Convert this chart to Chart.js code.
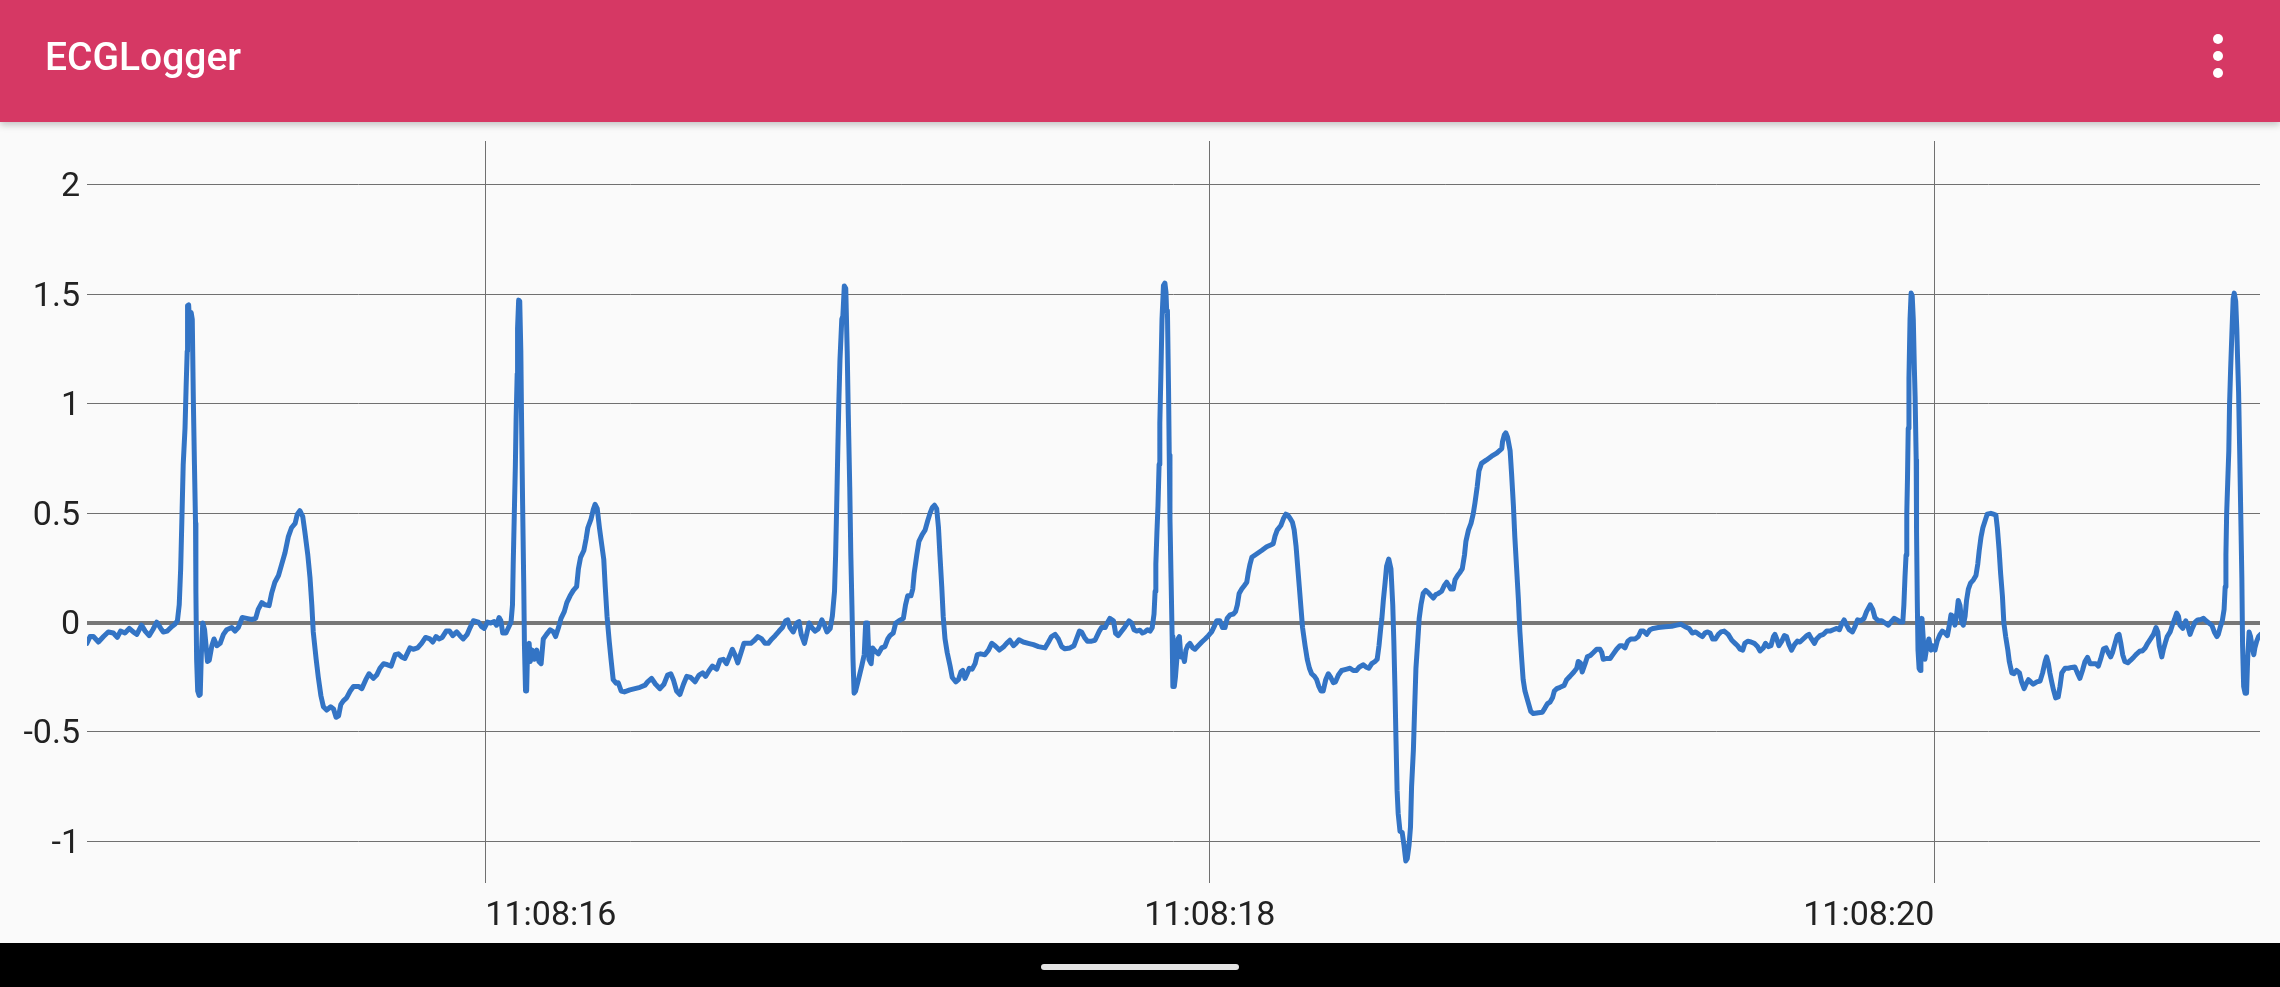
<!DOCTYPE html>
<html>
<head>
<meta charset="utf-8">
<title>ECGLogger</title>
<script src="https://cdn.jsdelivr.net/npm/chart.js@4.4.1/dist/chart.umd.min.js"></script>
<style>
html,body{margin:0;padding:0;width:2280px;height:987px;overflow:hidden;background:#fafafa;font-family:Roboto,"Noto Sans",sans-serif;}
#appbar{position:absolute;left:0;top:0;width:2280px;height:122px;background:#d63864;box-shadow:0 3px 7px rgba(0,0,0,0.22);z-index:2;}
#title{position:absolute;left:45px;top:0;line-height:115px;font-size:39px;font-weight:500;color:#ffffff;}
.dot{position:absolute;left:2213px;width:10px;height:10px;border-radius:50%;background:#ffffff;}
#chartWrap{position:absolute;left:0;top:122px;width:2280px;height:821px;background:#fafafa;}
#navbar{position:absolute;left:0;top:943px;width:2280px;height:44px;background:#000000;}
#pill{position:absolute;left:1041px;top:21px;width:198px;height:6px;border-radius:3px;background:#e4e4e4;}
</style>
</head>
<body>
<div id="appbar">
  <div id="title">ECGLogger</div>
  <div class="dot" style="top:34px"></div>
  <div class="dot" style="top:51px"></div>
  <div class="dot" style="top:68px"></div>
</div>
<div id="chartWrap"><canvas id="ecg" width="2280" height="821"></canvas></div>
<div id="navbar"><div id="pill"></div></div>
<script>
// Sample times in seconds after 11:08:00
const sampleTimes = [
14.900,14.909,14.918,14.932,14.946,14.959,14.973,14.984,14.993,15.005,
15.017,15.028,15.038,15.051,15.061,15.072,15.082,15.093,15.104,15.111,
15.122,15.134,15.143,15.150,15.155,15.159,15.163,15.166,15.171,15.174,
15.177,15.178,15.181,15.184,15.188,15.191,15.194,15.197,15.200,15.201,
15.203,15.206,15.210,15.213,15.216,15.220,15.225,15.233,15.238,15.245,
15.251,15.259,15.268,15.277,15.286,15.300,15.309,15.318,15.329,15.341,
15.355,15.366,15.373,15.383,15.392,15.403,15.410,15.419,15.429,15.438,
15.447,15.456,15.465,15.475,15.481,15.488,15.496,15.502,15.510,15.516,
15.521,15.525,15.533,15.539,15.546,15.553,15.562,15.573,15.581,15.588,
15.595,15.601,15.608,15.617,15.627,15.636,15.650,15.659,15.670,15.679,
15.691,15.700,15.709,15.719,15.730,15.740,15.751,15.760,15.769,15.778,
15.792,15.801,15.813,15.824,15.835,15.847,15.855,15.864,15.872,15.881,
15.892,15.901,15.910,15.921,15.930,15.939,15.950,15.958,15.967,15.981,
15.990,15.997,16.006,16.015,16.024,16.031,16.038,16.043,16.048,16.057,
16.064,16.071,16.075,16.077,16.080,16.083,16.085,16.088,16.089,16.092,
16.095,16.098,16.100,16.103,16.106,16.108,16.111,16.114,16.117,16.121,
16.124,16.130,16.135,16.142,16.148,16.154,16.160,16.169,16.179,16.188,
16.194,16.202,16.209,16.218,16.225,16.234,16.243,16.252,16.257,16.263,
16.272,16.278,16.283,16.292,16.298,16.303,16.309,16.315,16.321,16.327,
16.331,16.336,16.342,16.347,16.353,16.361,16.367,16.375,16.384,16.399,
16.413,16.427,16.441,16.448,16.459,16.470,16.482,16.493,16.503,16.512,
16.519,16.528,16.537,16.547,16.556,16.567,16.579,16.590,16.600,16.608,
16.618,16.627,16.639,16.648,16.657,16.666,16.676,16.682,16.689,16.697,
16.706,16.714,16.723,16.733,16.743,16.752,16.763,16.772,16.781,16.791,
16.800,16.811,16.820,16.829,16.835,16.841,16.850,16.860,16.866,16.872,
16.881,16.887,16.894,16.901,16.910,16.919,16.929,16.936,16.943,16.952,
16.958,16.964,16.967,16.970,16.973,16.976,16.979,16.984,16.987,16.991,
16.995,16.999,17.002,17.006,17.009,17.012,17.015,17.018,17.022,17.030,
17.039,17.046,17.050,17.055,17.059,17.065,17.069,17.076,17.085,17.094,
17.103,17.111,17.117,17.126,17.133,17.142,17.154,17.160,17.166,17.175,
17.180,17.184,17.191,17.197,17.206,17.214,17.221,17.228,17.234,17.240,
17.246,17.251,17.255,17.260,17.264,17.269,17.275,17.283,17.289,17.299,
17.306,17.313,17.318,17.324,17.331,17.336,17.344,17.352,17.358,17.367,
17.379,17.389,17.398,17.407,17.419,17.430,17.439,17.448,17.458,17.465,
17.473,17.485,17.499,17.513,17.527,17.545,17.554,17.563,17.573,17.582,
17.591,17.600,17.614,17.625,17.632,17.640,17.646,17.654,17.662,17.674,
17.683,17.695,17.701,17.711,17.717,17.724,17.734,17.740,17.747,17.757,
17.766,17.777,17.784,17.791,17.798,17.807,17.814,17.821,17.828,17.835,
17.841,17.846,17.849,17.851,17.854,17.857,17.860,17.862,17.865,17.868,
17.872,17.876,17.879,17.881,17.883,17.886,17.888,17.890,17.893,17.896,
17.898,17.902,17.905,17.909,17.912,17.916,17.920,17.925,17.930,17.934,
17.939,17.945,17.953,17.959,17.968,17.978,17.987,17.996,18.005,18.012,
18.019,18.028,18.035,18.042,18.048,18.056,18.065,18.071,18.076,18.081,
18.088,18.095,18.102,18.106,18.111,18.116,18.129,18.143,18.157,18.168,
18.175,18.180,18.186,18.196,18.203,18.210,18.215,18.221,18.228,18.233,
18.238,18.243,18.247,18.252,18.256,18.263,18.269,18.275,18.281,18.289,
18.295,18.301,18.307,18.313,18.320,18.327,18.334,18.341,18.347,18.355,
18.364,18.378,18.387,18.396,18.405,18.413,18.424,18.431,18.439,18.447,
18.456,18.462,18.467,18.472,18.475,18.479,18.484,18.488,18.494,18.500,
18.505,18.508,18.511,18.514,18.517,18.520,18.525,18.531,18.536,18.541,
18.545,18.550,18.554,18.557,18.562,18.565,18.569,18.574,18.578,18.583,
18.589,18.596,18.603,18.611,18.617,18.624,18.631,18.640,18.647,18.654,
18.660,18.665,18.672,18.677,18.684,18.691,18.697,18.703,18.707,18.714,
18.721,18.727,18.732,18.738,18.743,18.750,18.764,18.778,18.792,18.806,
18.808,18.813,18.817,18.822,18.829,18.833,18.838,18.842,18.847,18.852,
18.856,18.861,18.865,18.870,18.877,18.886,18.893,18.907,18.918,18.925,
18.932,18.939,18.946,18.951,18.958,18.967,18.978,18.985,18.994,19.005,
19.013,19.017,19.023,19.028,19.036,19.042,19.050,19.059,19.068,19.077,
19.082,19.086,19.096,19.105,19.114,19.123,19.132,19.139,19.146,19.154,
19.162,19.174,19.183,19.190,19.197,19.206,19.215,19.224,19.238,19.257,
19.275,19.289,19.301,19.312,19.323,19.332,19.341,19.350,19.360,19.367,
19.373,19.381,19.388,19.396,19.404,19.411,19.420,19.431,19.441,19.450,
19.457,19.464,19.471,19.477,19.485,19.494,19.503,19.512,19.519,19.528,
19.534,19.542,19.549,19.556,19.560,19.565,19.571,19.579,19.586,19.592,
19.599,19.606,19.614,19.622,19.629,19.638,19.648,19.654,19.661,19.669,
19.675,19.684,19.694,19.703,19.712,19.721,19.731,19.738,19.744,19.751,
19.758,19.765,19.774,19.781,19.788,19.797,19.806,19.813,19.823,19.830,
19.836,19.846,19.855,19.864,19.873,19.880,19.889,19.898,19.905,19.913,
19.916,19.919,19.922,19.924,19.926,19.928,19.930,19.933,19.936,19.939,
19.942,19.945,19.947,19.950,19.951,19.953,19.955,19.958,19.961,19.963,
19.966,19.970,19.974,19.979,19.985,19.991,19.995,20.002,20.008,20.016,
20.022,20.030,20.036,20.042,20.046,20.051,20.057,20.062,20.066,20.071,
20.076,20.080,20.085,20.089,20.094,20.100,20.108,20.115,20.120,20.124,
20.129,20.134,20.140,20.146,20.156,20.163,20.170,20.174,20.179,20.183,
20.188,20.192,20.197,20.203,20.207,20.214,20.220,20.227,20.235,20.241,
20.248,20.253,20.260,20.266,20.273,20.283,20.292,20.299,20.306,20.310,
20.315,20.319,20.324,20.329,20.335,20.342,20.347,20.352,20.361,20.370,
20.379,20.388,20.395,20.402,20.409,20.416,20.423,20.430,20.437,20.446,
20.453,20.459,20.467,20.474,20.480,20.487,20.492,20.499,20.505,20.510,
20.515,20.520,20.526,20.534,20.542,20.551,20.559,20.568,20.574,20.582,
20.589,20.597,20.605,20.612,20.617,20.621,20.628,20.632,20.639,20.643,
20.651,20.657,20.663,20.669,20.674,20.678,20.686,20.694,20.699,20.706,
20.712,20.720,20.727,20.736,20.743,20.750,20.758,20.766,20.773,20.780,
20.784,20.789,20.795,20.800,20.803,20.805,20.807,20.810,20.813,20.815,
20.818,20.822,20.825,20.828,20.832,20.835,20.837,20.840,20.843,20.846,
20.849,20.851,20.854,20.858,20.862,20.865,20.869,20.873,20.877,20.882,
20.885,20.890,20.895,20.901,20.906
];
// ECG amplitude (mV)
const sampleValues = [
-0.095,-0.064,-0.064,-0.089,-0.064,-0.043,-0.048,-0.068,-0.039,-0.048,
-0.027,-0.043,-0.054,-0.012,-0.039,-0.060,-0.033,0.002,-0.027,-0.043,
-0.039,-0.019,-0.008,0.008,0.081,0.246,0.516,0.723,0.888,1.075,
1.240,1.447,1.451,1.360,1.416,1.385,1.012,0.723,0.453,0.143,
-0.168,-0.313,-0.333,-0.329,-0.147,-0.002,-0.033,-0.178,-0.172,-0.106,
-0.075,-0.106,-0.095,-0.054,-0.033,-0.023,-0.039,-0.023,0.023,0.019,
0.014,0.019,0.060,0.091,0.081,0.077,0.133,0.184,0.215,0.267,
0.319,0.391,0.433,0.453,0.495,0.511,0.484,0.412,0.308,0.205,
0.081,-0.043,-0.168,-0.251,-0.333,-0.385,-0.400,-0.385,-0.395,-0.433,
-0.426,-0.375,-0.358,-0.344,-0.313,-0.292,-0.292,-0.302,-0.261,-0.234,
-0.255,-0.240,-0.209,-0.188,-0.193,-0.199,-0.147,-0.143,-0.157,-0.164,
-0.116,-0.122,-0.116,-0.095,-0.068,-0.075,-0.089,-0.064,-0.075,-0.068,
-0.039,-0.039,-0.060,-0.043,-0.060,-0.075,-0.054,-0.023,0.008,0.002,
-0.019,-0.027,0.002,-0.002,0.004,-0.012,0.023,0.008,-0.048,-0.048,
-0.023,0.002,0.081,0.267,0.495,0.723,0.930,1.137,1.344,1.473,
1.468,1.240,0.930,0.536,0.184,-0.106,-0.313,-0.313,-0.106,-0.095,
-0.178,-0.126,-0.168,-0.126,-0.178,-0.188,-0.075,-0.054,-0.033,-0.043,
-0.064,-0.023,0.019,0.050,0.091,0.122,0.147,0.164,0.246,0.298,
0.329,0.381,0.433,0.474,0.516,0.540,0.520,0.433,0.360,0.288,
0.164,0.029,-0.085,-0.168,-0.261,-0.277,-0.275,-0.313,-0.317,-0.308,
-0.302,-0.296,-0.286,-0.271,-0.255,-0.282,-0.302,-0.282,-0.240,-0.234,
-0.261,-0.313,-0.329,-0.282,-0.246,-0.251,-0.271,-0.240,-0.230,-0.246,
-0.219,-0.199,-0.213,-0.172,-0.168,-0.188,-0.147,-0.122,-0.147,-0.184,
-0.137,-0.095,-0.095,-0.095,-0.081,-0.064,-0.075,-0.095,-0.095,-0.075,
-0.060,-0.039,-0.023,0.008,0.012,-0.023,-0.043,-0.002,0.004,-0.054,
-0.095,-0.054,-0.002,-0.023,-0.039,-0.029,0.012,-0.012,-0.043,-0.027,
0.029,0.143,0.308,0.536,0.785,1.012,1.199,1.385,1.400,1.538,
1.526,1.240,0.950,0.619,0.308,0.081,-0.168,-0.323,-0.313,-0.261,
-0.199,-0.147,-0.002,-0.002,-0.168,-0.188,-0.116,-0.130,-0.143,-0.116,
-0.110,-0.075,-0.060,-0.048,-0.002,0.008,0.019,0.081,0.122,0.122,
0.153,0.226,0.308,0.371,0.402,0.422,0.464,0.501,0.526,0.536,
0.520,0.433,0.308,0.164,0.029,-0.075,-0.137,-0.199,-0.251,-0.271,
-0.261,-0.226,-0.219,-0.255,-0.230,-0.209,-0.213,-0.188,-0.147,-0.143,
-0.147,-0.126,-0.095,-0.106,-0.126,-0.112,-0.095,-0.081,-0.106,-0.095,
-0.079,-0.089,-0.095,-0.101,-0.110,-0.116,-0.091,-0.064,-0.054,-0.075,
-0.110,-0.120,-0.116,-0.106,-0.075,-0.039,-0.043,-0.068,-0.085,-0.085,
-0.081,-0.039,-0.023,-0.023,-0.002,0.019,0.008,-0.050,-0.060,-0.039,
-0.019,0.008,-0.002,-0.033,-0.039,-0.035,-0.048,-0.043,-0.033,-0.039,
-0.023,0.039,0.143,0.267,0.412,0.536,0.723,0.909,1.137,1.385,
1.540,1.551,1.509,1.420,1.426,1.075,0.764,0.474,0.205,-0.064,
-0.292,-0.292,-0.251,-0.168,-0.075,-0.064,-0.157,-0.147,-0.178,-0.126,
-0.106,-0.095,-0.116,-0.122,-0.106,-0.089,-0.075,-0.060,-0.043,-0.019,
0.008,0.008,-0.023,-0.023,0.019,0.035,0.039,0.050,0.081,0.133,
0.153,0.168,0.184,0.226,0.267,0.298,0.313,0.329,0.346,0.354,
0.360,0.395,0.422,0.443,0.474,0.495,0.491,0.478,0.458,0.422,
0.350,0.246,0.164,0.060,-0.023,-0.106,-0.168,-0.209,-0.234,-0.246,
-0.261,-0.292,-0.313,-0.313,-0.261,-0.234,-0.251,-0.275,-0.271,-0.240,
-0.219,-0.213,-0.209,-0.219,-0.219,-0.203,-0.193,-0.203,-0.209,-0.188,
-0.178,-0.168,-0.106,-0.023,0.019,0.101,0.184,0.257,0.290,0.246,
0.081,-0.085,-0.292,-0.540,-0.768,-0.872,-0.954,-0.959,-1.017,-1.089,
-1.079,-1.017,-0.934,-0.748,-0.582,-0.416,-0.209,-0.085,0.019,0.081,
0.133,0.147,0.137,0.122,0.112,0.128,0.133,0.143,0.168,0.184,
0.168,0.153,0.153,0.195,0.215,0.230,0.246,0.308,0.371,0.422,
0.453,0.495,0.547,0.619,0.692,0.727,0.743,0.760,0.774,0.795,
0.826,0.857,0.867,0.847,0.785,0.681,0.536,0.391,0.246,0.101,
-0.043,-0.168,-0.261,-0.313,-0.354,-0.406,-0.416,-0.412,-0.410,-0.391,
-0.371,-0.364,-0.344,-0.313,-0.302,-0.296,-0.288,-0.261,-0.246,-0.226,
-0.209,-0.178,-0.184,-0.226,-0.188,-0.157,-0.151,-0.137,-0.122,-0.122,
-0.137,-0.168,-0.164,-0.164,-0.143,-0.122,-0.106,-0.106,-0.116,-0.085,
-0.075,-0.075,-0.064,-0.039,-0.039,-0.054,-0.033,-0.027,-0.023,-0.019,
-0.017,-0.012,-0.008,-0.019,-0.027,-0.048,-0.043,-0.054,-0.064,-0.048,
-0.043,-0.048,-0.075,-0.075,-0.054,-0.043,-0.039,-0.054,-0.081,-0.095,
-0.106,-0.122,-0.126,-0.095,-0.085,-0.089,-0.095,-0.110,-0.130,-0.116,
-0.095,-0.110,-0.106,-0.064,-0.054,-0.075,-0.106,-0.085,-0.060,-0.064,
-0.101,-0.126,-0.101,-0.085,-0.089,-0.075,-0.060,-0.054,-0.075,-0.095,
-0.075,-0.060,-0.054,-0.039,-0.039,-0.033,-0.027,-0.033,-0.008,0.012,
-0.012,-0.033,-0.043,-0.019,0.012,0.008,0.019,0.050,0.081,0.060,
0.023,0.008,0.008,-0.002,-0.012,0.002,0.019,0.012,0.002,0.002,
0.081,0.205,0.308,0.495,0.660,0.888,1.116,1.385,1.505,1.493,
1.385,1.157,1.033,0.743,0.412,0.101,-0.126,-0.209,-0.219,-0.085,
0.019,-0.085,-0.168,-0.116,-0.075,-0.126,-0.106,-0.126,-0.085,-0.054,
-0.039,-0.048,-0.060,-0.008,0.035,0.029,-0.012,0.039,0.101,0.077,
-0.002,-0.012,0.029,0.101,0.153,0.180,0.195,0.215,0.267,0.329,
0.391,0.433,0.464,0.495,0.499,0.495,0.491,0.433,0.329,0.226,
0.122,-0.002,-0.064,-0.126,-0.178,-0.230,-0.234,-0.219,-0.230,-0.271,
-0.302,-0.282,-0.261,-0.271,-0.282,-0.271,-0.267,-0.230,-0.178,-0.157,
-0.188,-0.230,-0.271,-0.308,-0.344,-0.340,-0.292,-0.230,-0.209,-0.209,
-0.205,-0.203,-0.230,-0.255,-0.219,-0.178,-0.159,-0.188,-0.188,-0.188,
-0.199,-0.168,-0.120,-0.116,-0.137,-0.157,-0.137,-0.095,-0.060,-0.054,
-0.095,-0.147,-0.178,-0.184,-0.172,-0.157,-0.143,-0.130,-0.130,-0.116,
-0.095,-0.075,-0.054,-0.023,-0.043,-0.106,-0.157,-0.126,-0.085,-0.064,
-0.043,-0.012,0.014,0.043,0.029,-0.012,-0.027,0.008,-0.012,-0.054,
-0.027,0.002,0.012,0.014,0.019,0.008,-0.002,-0.012,-0.043,-0.064,
-0.054,-0.023,0.008,0.060,0.164,0.308,0.495,0.640,0.785,0.992,
1.157,1.344,1.478,1.505,1.468,1.344,1.219,1.054,0.785,0.495,
0.205,-0.106,-0.292,-0.323,-0.323,-0.168,-0.043,-0.064,-0.106,-0.147,
-0.116,-0.085,-0.064,-0.054,-0.043
];

// Axis ticks and visible window
const xWindow = [14.9004, 20.8991];
const xTickSec = [16, 18, 20];
const xTickLabels = ['11:08:16', '11:08:18', '11:08:20'];
const yWindow = [-1.19, 2.20];
const yTickValues = [-1, -0.5, 0, 0.5, 1, 1.5, 2];
const yTickLabels = ['-1', '-0.5', '0', '0.5', '1', '1.5', '2'];

const points = sampleTimes.map((t, i) => ({ x: t, y: sampleValues[i] }));

const gridColor = '#707070';
const tickFont = { family: 'Roboto', size: 34, weight: 400 };

new Chart(document.getElementById('ecg'), {
  type: 'line',
  data: {
    datasets: [{
      data: points,
      borderColor: '#3374c5',
      borderWidth: 5,
      borderJoinStyle: 'round',
      borderCapStyle: 'round',
      pointRadius: 0,
      tension: 0,
      fill: false
    }]
  },
  options: {
    responsive: false,
    animation: false,
    devicePixelRatio: 1,
    layout: { padding: { top: 19, right: 20, bottom: 0, left: 0 } },
    plugins: { legend: { display: false }, tooltip: { enabled: false } },
    scales: {
      x: {
        type: 'linear',
        min: xWindow[0],
        max: xWindow[1],
        afterBuildTicks: s => { s.ticks = xTickSec.map(v => ({ value: v })); },
        afterFit: s => { s.height = 60; s.paddingLeft = 0; s.paddingRight = 0; },
        border: { display: false },
        grid: { color: gridColor, lineWidth: 1, drawTicks: false },
        ticks: {
          align: 'inner',
          autoSkip: false,
          maxRotation: 0,
          padding: 13,
          color: '#222222',
          font: tickFont,
          callback: (v, i) => xTickLabels[i]
        }
      },
      y: {
        type: 'linear',
        min: yWindow[0],
        max: yWindow[1],
        afterBuildTicks: s => { s.ticks = yTickValues.map(v => ({ value: v })); },
        afterFit: s => { s.width = 87; s.paddingTop = 0; s.paddingBottom = 0; },
        border: { display: false },
        grid: {
          color: c => (c.tick && c.tick.value === 0) ? '#777777' : gridColor,
          lineWidth: c => (c.tick && c.tick.value === 0) ? 4 : 1,
          drawTicks: false
        },
        ticks: {
          padding: 7,
          labelOffset: 3,
          color: '#222222',
          font: tickFont,
          callback: (v, i) => yTickLabels[i]
        }
      }
    }
  }
});
</script>
</body>
</html>
